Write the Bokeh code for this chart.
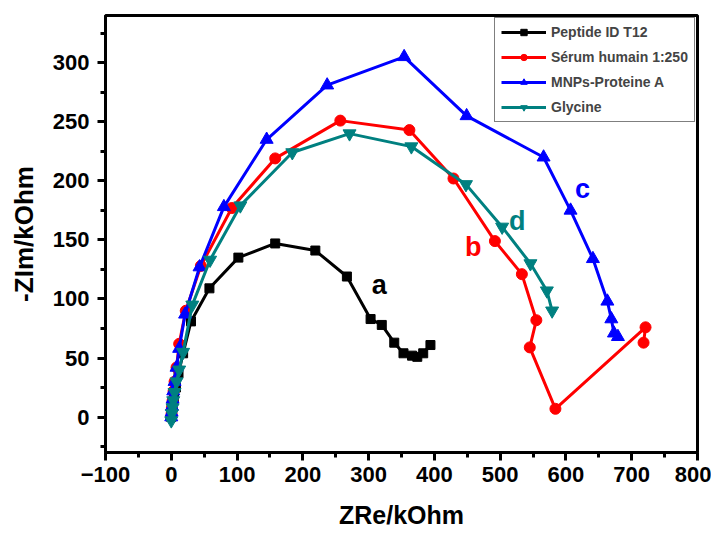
from bokeh.plotting import figure
from bokeh.models import Range1d, FixedTicker, Legend, LegendItem, Label
from bokeh.embed import file_html
from bokeh.resources import INLINE

# ---- data (ZRe, -ZIm in kOhm) ----
peptide_x = [0, 1, 2, 4, 7, 11, 18, 30, 58, 102, 158, 219, 267, 303, 320, 339, 353, 366, 374, 383, 394]
peptide_y = [0, 4, 9, 16, 25, 37, 54, 81, 109, 135, 147, 141, 119, 83, 78, 63, 54, 52, 51, 54, 61]

serum_x = [0, 0.5, 1, 2, 3.5, 5, 8, 12, 22, 45, 92, 158, 257, 362, 429, 492, 533, 555, 545, 584, 721, 718]
serum_y = [0, 3, 8, 14, 22, 30, 42, 62, 90, 128, 177, 219, 251, 243, 202, 149, 121, 82, 59, 7, 76, 63]

mnps_x = [0, 0.5, 1, 2, 3, 5, 8, 12, 21, 43, 80, 145, 237, 354, 449, 566, 607, 641, 663, 669, 673, 679]
mnps_y = [0, 4, 9, 15, 22, 30, 42, 58, 87, 127, 178, 235, 281, 305, 255, 220, 175, 134, 98, 83, 71, 68]

gly_x = [0, 1, 2, 3, 5, 8, 12, 18, 32, 59, 105, 184, 271, 365, 448, 503, 546, 571, 579]
gly_y = [-3, 3, 8, 14, 21, 30, 40, 55, 95, 133, 179, 224, 240, 229, 197, 161, 130, 107, 90]

x_ticks = [-100, 0, 100, 200, 300, 400, 500, 600, 700, 800]
y_ticks = [0, 50, 100, 150, 200, 250, 300]

FONT = "Liberation Sans"

p = figure(width=711, height=533, output_backend="svg", toolbar_location=None,
           x_range=Range1d(-100, 800), y_range=Range1d(-30, 340),
           min_border_left=105, min_border_right=14, min_border_top=15, min_border_bottom=81)
p.grid.visible = False
p.outline_line_color = "black"
p.outline_line_width = 3
p.background_fill_color = "white"
p.border_fill_color = "white"

p.xaxis.ticker = FixedTicker(ticks=x_ticks, minor_ticks=[t + 50 for t in x_ticks[:-1]])
p.yaxis.ticker = FixedTicker(ticks=y_ticks, minor_ticks=[-25] + [t + 25 for t in y_ticks])
for ax in (p.xaxis[0], p.yaxis[0]):
    ax.axis_line_width = 3
    ax.major_tick_line_width = 3
    ax.minor_tick_line_width = 3
    ax.major_tick_out = 8
    ax.major_tick_in = 0
    ax.minor_tick_out = 5
    ax.minor_tick_in = 0
    ax.major_label_text_font = FONT
    ax.major_label_text_font_style = "bold"
    ax.major_label_text_font_size = "22px"
    ax.major_label_text_color = "black"
    ax.axis_label_text_font = FONT
    ax.axis_label_text_font_style = "bold"
    ax.axis_label_text_color = "black"

p.xaxis.major_label_standoff = 6
p.yaxis.major_label_standoff = 8
p.xaxis.axis_label = "ZRe/kOhm"
p.xaxis.axis_label_text_font_size = "25px"
p.xaxis.axis_label_standoff = 16
p.yaxis.axis_label = "-ZIm/kOhm"
p.yaxis.axis_label_text_font_size = "26px"
p.yaxis.axis_label_standoff = 11

specs = [
    ("Peptide ID T12", peptide_x, peptide_y, "black", "square", 9),
    ("Sérum humain 1:250", serum_x, serum_y, "#FF0000", "circle", 11),
    ("MNPs-Proteine A", mnps_x, mnps_y, "#0000FF", "triangle", 13),
    ("Glycine", gly_x, gly_y, "#008080", "inverted_triangle", 13),
]
items = []
for name, xs, ys, col, mk, sz in specs:
    l = p.line(xs, ys, line_color=col, line_width=3)
    s = p.scatter(xs, ys, marker=mk, size=sz, fill_color=col, line_color=col)
    items.append(LegendItem(label=name, renderers=[l, s]))

legend = Legend(items=items, location=(389, 330), border_line_color="black",
                border_line_width=1.5, padding=6, spacing=9, glyph_height=16,
                label_height=16, glyph_width=45, label_standoff=5, margin=0,
                label_text_font=FONT, label_text_font_style="bold",
                label_text_font_size="14px", background_fill_alpha=1)
p.add_layout(legend, "center")

for txt, x, y, col in [("a", 316, 112, "black"), ("b", 459, 144, "#FF0000"),
                       ("c", 625, 193, "#0000FF"), ("d", 526, 166, "#008080")]:
    p.add_layout(Label(x=x, y=y, text=txt, text_color=col, text_font=FONT,
                       text_font_style="bold", text_font_size="27px",
                       text_align="center", text_baseline="middle"))

open("out.html", "w").write(file_html(p, INLINE))
